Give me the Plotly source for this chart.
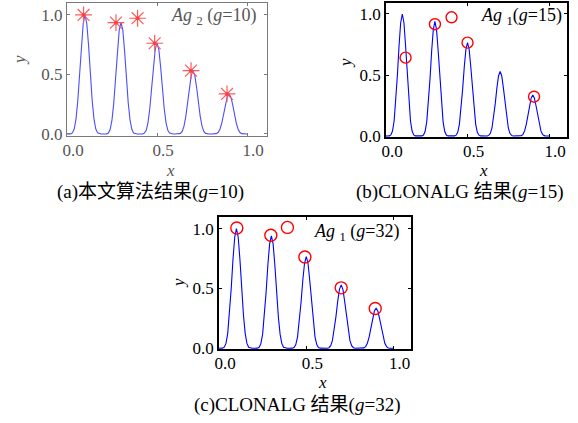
import plotly.graph_objects as go

W, H = 578, 423

# ---- data ----
curve_x = [0.00, 0.01, 0.02, 0.03, 0.04, 0.05, 0.06, 0.07, 0.08, 0.09,
           0.10, 0.11, 0.12, 0.13, 0.14, 0.15, 0.16, 0.17, 0.18, 0.19,
           0.20, 0.21, 0.22, 0.23, 0.24, 0.25, 0.26, 0.27, 0.28, 0.29,
           0.30, 0.31, 0.32, 0.33, 0.34, 0.35, 0.36, 0.37, 0.38, 0.39,
           0.40, 0.41, 0.42, 0.43, 0.44, 0.45, 0.46, 0.47, 0.48, 0.49,
           0.50, 0.51, 0.52, 0.53, 0.54, 0.55, 0.56, 0.57, 0.58, 0.59,
           0.60, 0.61, 0.62, 0.63, 0.64, 0.65, 0.66, 0.67, 0.68, 0.69,
           0.70, 0.71, 0.72, 0.73, 0.74, 0.75, 0.76, 0.77, 0.78, 0.79,
           0.80, 0.81, 0.82, 0.83, 0.84, 0.85, 0.86, 0.87, 0.88, 0.89,
           0.90, 0.91, 0.92, 0.93, 0.94, 0.95, 0.96, 0.97, 0.98, 0.99,
           1.00]
curve_y = [0.000, 0.000, 0.001, 0.009, 0.041, 0.125, 0.280, 0.500, 0.740, 0.928,
           1.000, 0.928, 0.740, 0.500, 0.280, 0.125, 0.041, 0.009, 0.001, 0.000,
           0.000, 0.000, 0.001, 0.008, 0.039, 0.118, 0.263, 0.470, 0.696, 0.872,
           0.940, 0.872, 0.696, 0.470, 0.263, 0.118, 0.039, 0.008, 0.001, 0.000,
           0.000, 0.000, 0.001, 0.007, 0.031, 0.096, 0.214, 0.383, 0.566, 0.710,
           0.765, 0.710, 0.566, 0.383, 0.214, 0.096, 0.031, 0.007, 0.001, 0.000,
           0.000, 0.000, 0.000, 0.005, 0.022, 0.066, 0.148, 0.265, 0.392, 0.492,
           0.530, 0.492, 0.392, 0.265, 0.148, 0.066, 0.022, 0.005, 0.000, 0.000,
           0.000, 0.000, 0.000, 0.003, 0.014, 0.042, 0.094, 0.168, 0.248, 0.311,
           0.335, 0.311, 0.248, 0.168, 0.094, 0.042, 0.014, 0.003, 0.000, 0.000,
           0.000]

a_x = [0.092, 0.272, 0.392, 0.487, 0.689, 0.889]
a_y = [1.000, 0.935, 0.972, 0.762, 0.532, 0.336]
b_x = [0.120, 0.300, 0.402, 0.500, 0.908]
b_y = [0.642, 0.916, 0.973, 0.765, 0.322]
c_x = [0.102, 0.297, 0.392, 0.492, 0.700, 0.895]
c_y = [1.005, 0.944, 1.010, 0.763, 0.505, 0.333]

tick_vals = [0.0, 0.5, 1.0]
tick_text = ["0.0", "0.5", "1.0"]

captions = ["(a)本文算法结果(<i>g</i>=10)",
            "(b)CLONALG 结果(<i>g</i>=15)",
            "(c)CLONALG 结果(<i>g</i>=32)"]
labels = ["<i>Ag</i> <sub>2</sub> (<i>g</i>=10)",
          "<i>Ag</i> <sub>1</sub>(<i>g</i>=15)",
          "<i>Ag</i> <sub>1</sub> (<i>g</i>=32)"]

FONT = "Liberation Serif, Times New Roman, Noto Sans CJK SC, serif"


def px_x(p):
    return p / W


def px_y(p):
    return 1 - p / H


fig = go.Figure()

# panel boxes in pixels: (left, right, top, bottom)
boxes = [(67, 267, 3, 136), (386, 567, 3, 137), (219, 411, 217, 349)]
xranges = [[0, 1.111], [0, 1.11], [0, 1.10]]
yranges = [[-0.017, 1.10], [-0.008, 1.09], [-0.006, 1.097]]
frame_col = ["#7a7a7a", "black", "black"]
text_col = ["#555555", "black", "black"]
line_col = ["#4d4dff", "#0000ff", "#0000ff"]

for i in range(3):
    xa = "x" if i == 0 else f"x{i+1}"
    ya = "y" if i == 0 else f"y{i+1}"
    fig.add_trace(go.Scatter(x=curve_x, y=curve_y, mode="lines",
                             line=dict(color=line_col[i], width=1.1),
                             xaxis=xa, yaxis=ya, showlegend=False,
                             hoverinfo="skip"))

fig.add_trace(go.Scatter(x=a_x, y=a_y, mode="markers", xaxis="x", yaxis="y",
                         marker=dict(symbol="asterisk-open", size=14, color="#ff5a5a",
                                     line=dict(color="#ff5a5a", width=1.2)),
                         showlegend=False))
fig.add_trace(go.Scatter(x=a_x, y=a_y, mode="markers", xaxis="x", yaxis="y",
                         marker=dict(symbol="circle", size=4, color="#ff4040",
                                     line=dict(width=0)),
                         showlegend=False))
fig.add_trace(go.Scatter(x=b_x, y=b_y, mode="markers", xaxis="x2", yaxis="y2",
                         marker=dict(symbol="circle-open", size=11, color="#ff0000",
                                     line=dict(color="#ff0000", width=1.4)),
                         showlegend=False))
fig.add_trace(go.Scatter(x=c_x, y=c_y, mode="markers", xaxis="x3", yaxis="y3",
                         marker=dict(symbol="circle-open", size=12, color="#ff0000",
                                     line=dict(color="#ff0000", width=1.4)),
                         showlegend=False))

layout = dict(width=W, height=H, margin=dict(l=0, r=0, t=0, b=0),
              template="none",
              paper_bgcolor="white", plot_bgcolor="white",
              font=dict(family=FONT, size=17, color="black"))
annotations = []
cap_pos = [(150, 192), (460, 192), (297, 405)]
lab_pos = [(258, 17), (564, 17), (401, 232)]
x_title_pos = [(170, 170), (483, 170), (322, 382)]
y_title_pos = [(20, 60), (345, 63), (178, 283)]
for i, (l, r, t, b) in enumerate(boxes):
    sx = "" if i == 0 else str(i + 1)
    layout["xaxis" + sx] = dict(
        domain=[px_x(l), px_x(r)], range=xranges[i], anchor="y" + sx,
        tickvals=tick_vals, ticktext=tick_text, ticks="inside", ticklen=3,
        tickcolor=frame_col[i], showline=True, linecolor=frame_col[i],
        linewidth=1.5 if i else 1.2, mirror="ticks", showgrid=False, zeroline=False,
        automargin=False,
        tickfont=dict(size=17, color=text_col[i]), ticklabelshift=6,
        ticklabelstandoff=-2)
    layout["yaxis" + sx] = dict(
        domain=[px_y(b), px_y(t)], range=yranges[i], anchor="x" + sx,
        tickvals=tick_vals, ticktext=tick_text, ticks="inside", ticklen=3,
        tickcolor=frame_col[i], showline=True, linecolor=frame_col[i],
        linewidth=1.5 if i else 1.2, mirror="ticks", showgrid=False, zeroline=False,
        automargin=False,
        tickfont=dict(size=17, color=text_col[i]))
    annotations.append(dict(text=captions[i], x=px_x(cap_pos[i][0]), y=px_y(cap_pos[i][1]),
                            xref="paper", yref="paper", showarrow=False,
                            xanchor="center", yanchor="middle",
                            font=dict(family=FONT, size=19, color="black")))
    annotations.append(dict(text=labels[i], x=px_x(lab_pos[i][0]), y=px_y(lab_pos[i][1]),
                            xref="paper", yref="paper", showarrow=False,
                            xanchor="right", yanchor="middle",
                            font=dict(family=FONT, size=18, color=text_col[i])))
    annotations.append(dict(text="<i>x</i>", x=px_x(x_title_pos[i][0]), y=px_y(x_title_pos[i][1]),
                            xref="paper", yref="paper", showarrow=False,
                            xanchor="center", yanchor="middle",
                            font=dict(family=FONT, size=17, color=text_col[i])))
    annotations.append(dict(text="<i>y</i>", x=px_x(y_title_pos[i][0]), y=px_y(y_title_pos[i][1]),
                            xref="paper", yref="paper", showarrow=False, textangle=-90,
                            xanchor="center", yanchor="middle",
                            font=dict(family=FONT, size=17, color=text_col[i])))
layout["annotations"] = annotations
fig.update_layout(**layout)
fig.write_html("out.html", config={"displayModeBar": False},
               post_script="document.body.style.margin='0';document.body.style.overflow='hidden';")
